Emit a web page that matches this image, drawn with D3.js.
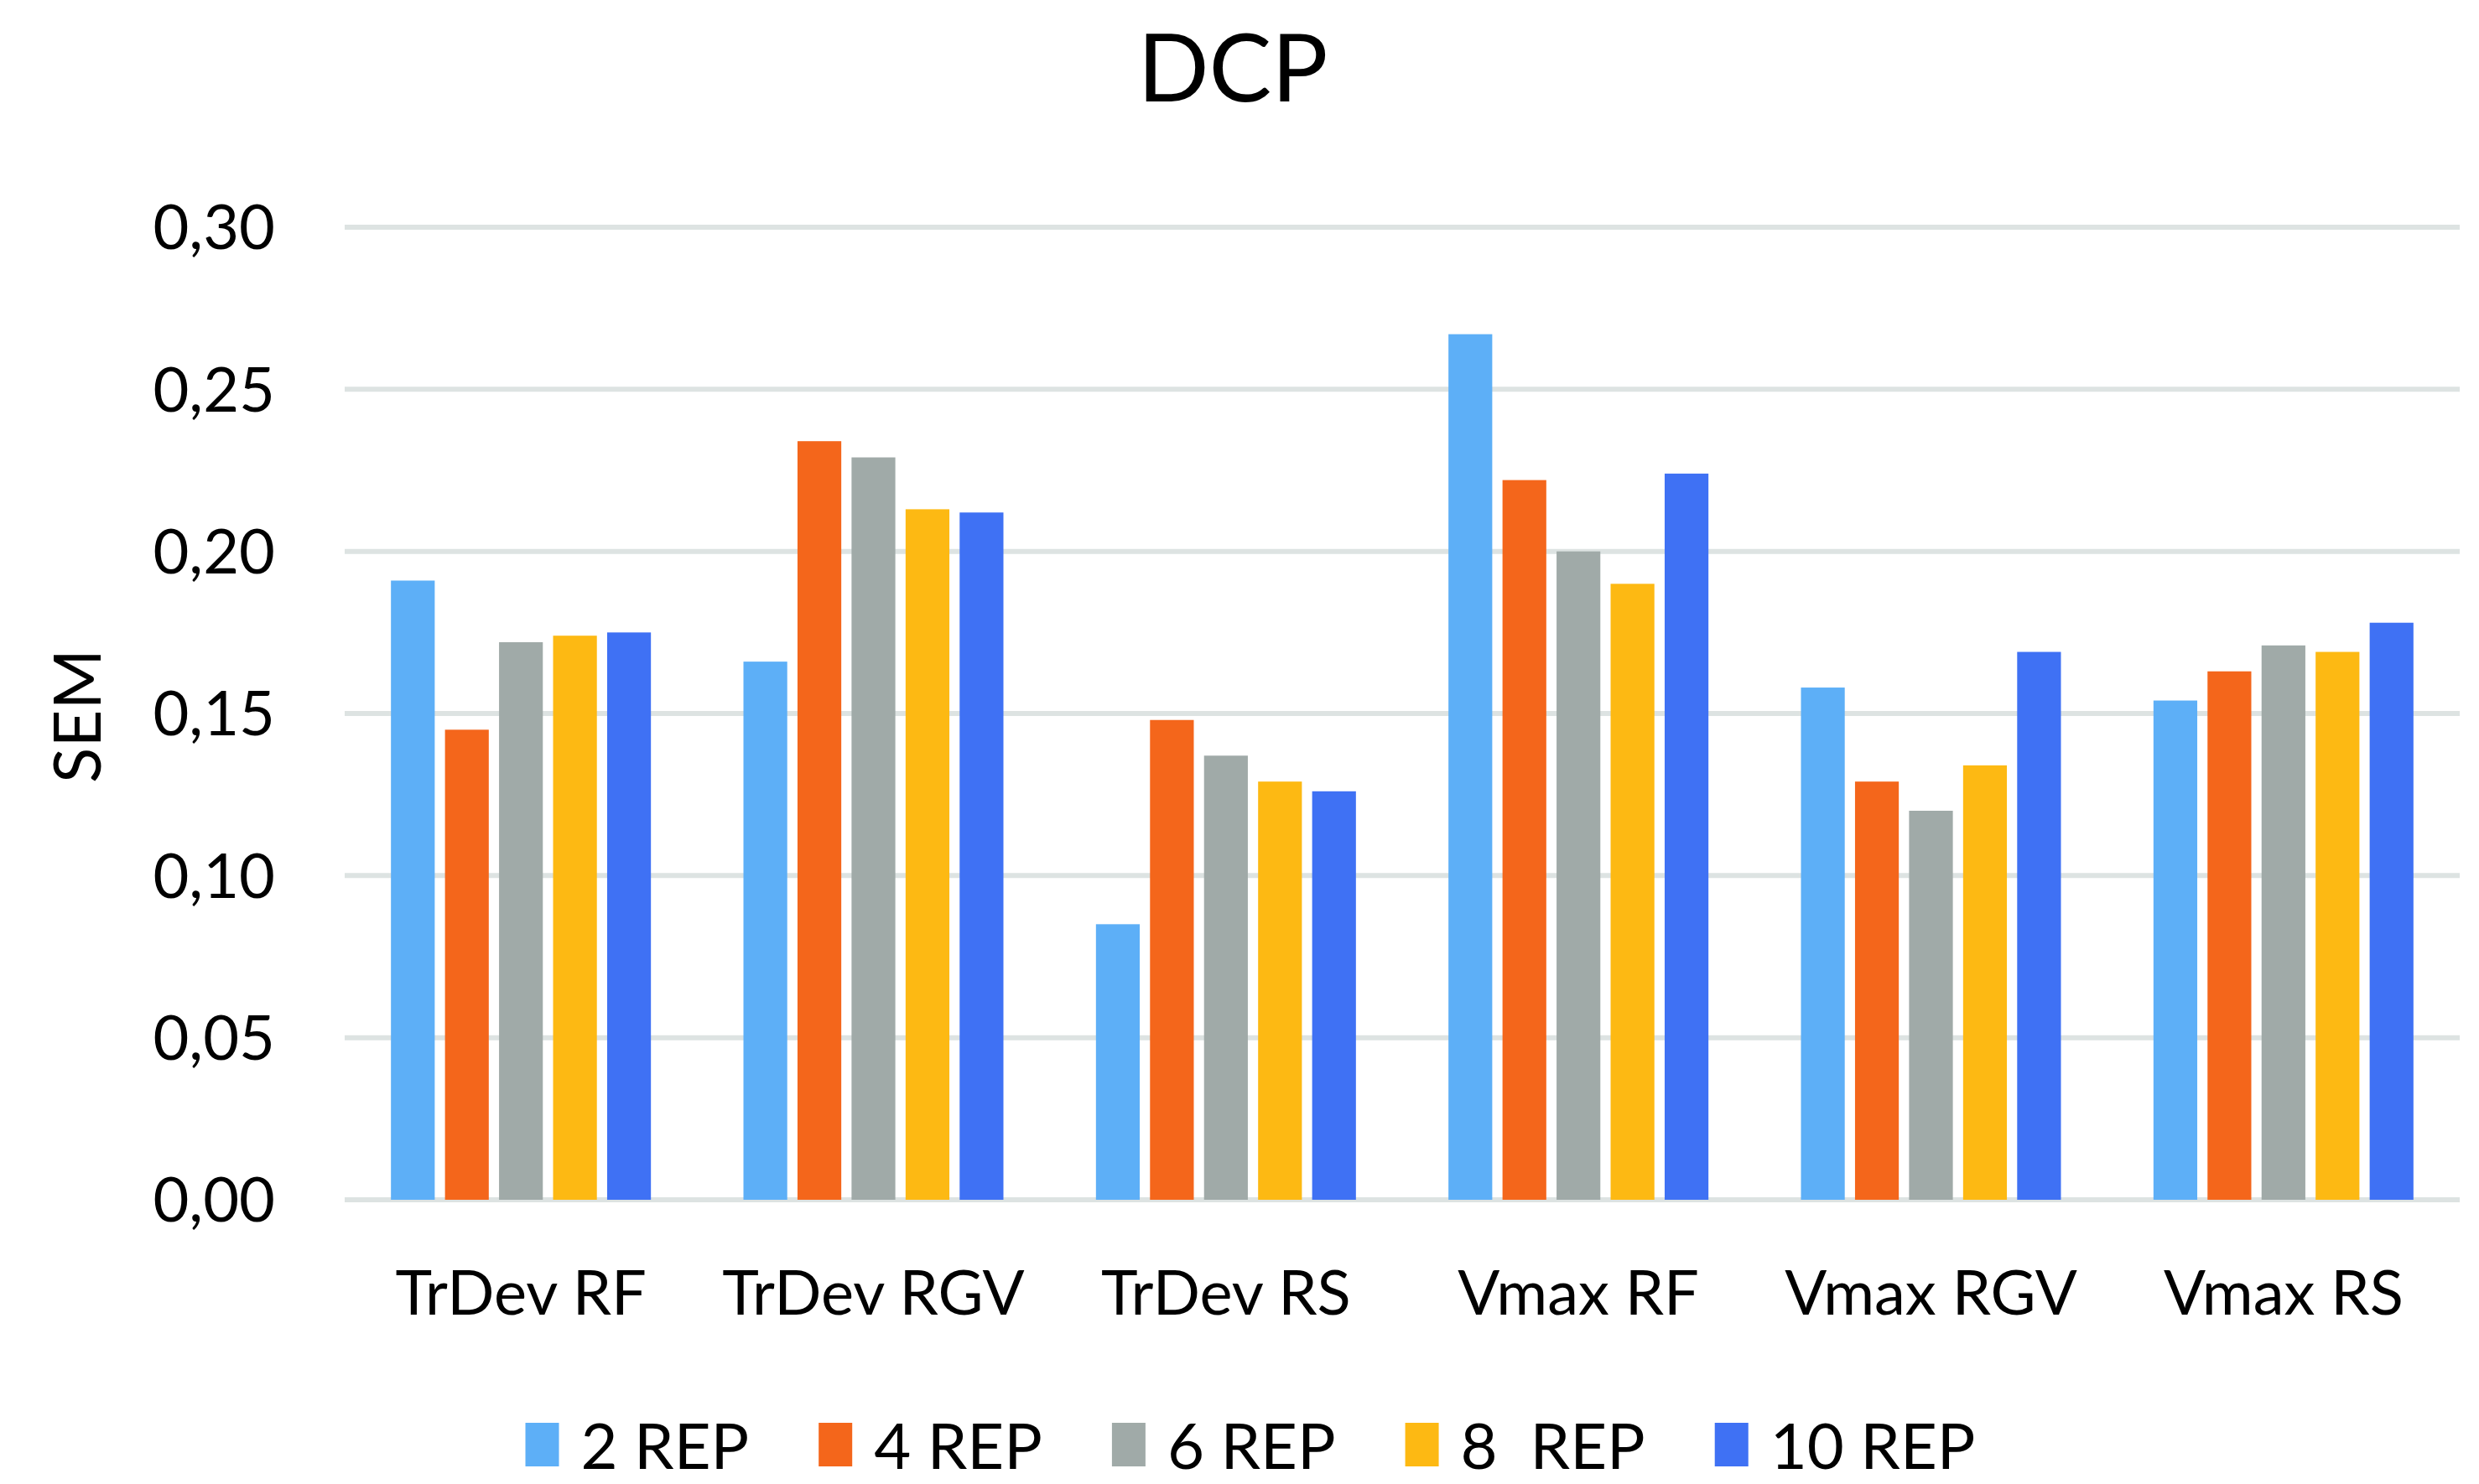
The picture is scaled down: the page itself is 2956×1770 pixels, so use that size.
<!DOCTYPE html>
<html>
<head>
<meta charset="utf-8">
<script src="https://cdn.jsdelivr.net/npm/d3@7"></script>
<style>
  html, body { margin: 0; padding: 0; background: #ffffff; }
  svg { display: block; }
  text { font-family: Lato, "Open Sans", sans-serif; fill: #000; }
</style>
</head>
<body>
<svg id="chart" width="2956" height="1770"></svg>
<script>
const title = "DCP";
const yLabel = "SEM";
const categories = ["TrDev RF", "TrDev RGV", "TrDev RS", "Vmax RF", "Vmax RGV", "Vmax RS"];
const seriesNames = ["2 REP", "4 REP", "6 REP", "8  REP", "10 REP"];
const seriesColors = ["#5daff7", "#f4661b", "#a0aaa8", "#fdb913", "#3f71f4"];
const rep2  = [0.191, 0.166, 0.085, 0.267, 0.158, 0.154];
const rep4  = [0.145, 0.234, 0.148, 0.222, 0.129, 0.163];
const rep6  = [0.172, 0.229, 0.137, 0.200, 0.120, 0.171];
const rep8  = [0.174, 0.213, 0.129, 0.190, 0.134, 0.169];
const rep10 = [0.175, 0.212, 0.126, 0.224, 0.169, 0.178];
const yTicks = [0, 0.05, 0.10, 0.15, 0.20, 0.25, 0.30];

const seriesValues = [rep2, rep4, rep6, rep8, rep10];

const svg = d3.select("#chart");
const W = 2956, H = 1770;
const m = { left: 411, right: 2933, top: 271, bottom: 1431 };

const x0 = d3.scaleBand().domain(categories).range([m.left, m.right]).padding(0);
const groupW = 310;
const x1 = d3.scaleBand().domain(seriesNames).range([0, groupW]).paddingInner(0.19).paddingOuter(0);
const y = d3.scaleLinear().domain([0, 0.30]).range([m.bottom, m.top]);

const fmt = v => d3.format(".2f")(v).replace(".", ",");

// gridlines
svg.append("g").selectAll("line").data(yTicks).join("line")
  .attr("x1", m.left).attr("x2", m.right)
  .attr("y1", d => y(d)).attr("y2", d => y(d))
  .attr("stroke", "#dde3e2").attr("stroke-width", 6);

// y axis labels
const yAxis = d3.axisLeft(y).tickValues(yTicks).tickFormat(fmt).tickSize(0).tickPadding(0);
const yg = svg.append("g").attr("transform", `translate(${328},0)`).call(yAxis);
yg.select(".domain").remove();
yg.selectAll("text").attr("font-size", 74).attr("font-family", "Lato, 'Open Sans', sans-serif")
  .attr("fill", "#000").attr("dy", "0.35em");

// bars
const groups = svg.append("g").selectAll("g").data(categories).join("g")
  .attr("transform", d => `translate(${x0(d) + (x0.bandwidth() - groupW) / 2},0)`);
groups.selectAll("rect").data((c, ci) => seriesNames.map((s, si) => ({ s, si, v: seriesValues[si][ci] })))
  .join("rect")
  .attr("x", d => x1(d.s))
  .attr("width", x1.bandwidth())
  .attr("y", d => y(d.v))
  .attr("height", d => y(0) - y(d.v))
  .attr("fill", d => seriesColors[d.si]);

// x axis labels
const xAxis = d3.axisBottom(x0).tickSize(0).tickPadding(0);
const xg = svg.append("g").attr("transform", `translate(0,${1568})`).call(xAxis);
xg.select(".domain").remove();
xg.selectAll("text").attr("font-size", 74).attr("font-family", "Lato, 'Open Sans', sans-serif")
  .attr("fill", "#000").attr("dy", 0);

// title
svg.append("text").attr("x", 1470).attr("y", 121).attr("text-anchor", "middle")
  .attr("font-size", 112).text(title);

// y label
svg.append("text").attr("transform", `translate(${120},${854}) rotate(-90)`)
  .attr("text-anchor", "middle").attr("font-size", 78).text(yLabel);

// legend
const legend = svg.append("g");
const swW = 40, swH = 52, gapSw = 26, gapItem = 83;
const items = legend.selectAll("g").data(seriesNames).join("g");
items.append("rect").attr("width", swW).attr("height", swH).attr("y", -swH / 2 - 2)
  .attr("fill", (d, i) => seriesColors[i]);
items.append("text").attr("x", swW + gapSw).attr("y", 0).attr("dy", "0.35em")
  .attr("font-size", 76).style("white-space", "pre").text(d => d);
let widths = [];
items.each(function() { widths.push(this.getBBox().width); });
const total = d3.sum(widths) + gapItem * (widths.length - 1);
let cx = 1491 - total / 2;
items.attr("transform", (d, i) => {
  const t = `translate(${cx},${1725})`;
  cx += widths[i] + gapItem;
  return t;
});
</script>
</body>
</html>
